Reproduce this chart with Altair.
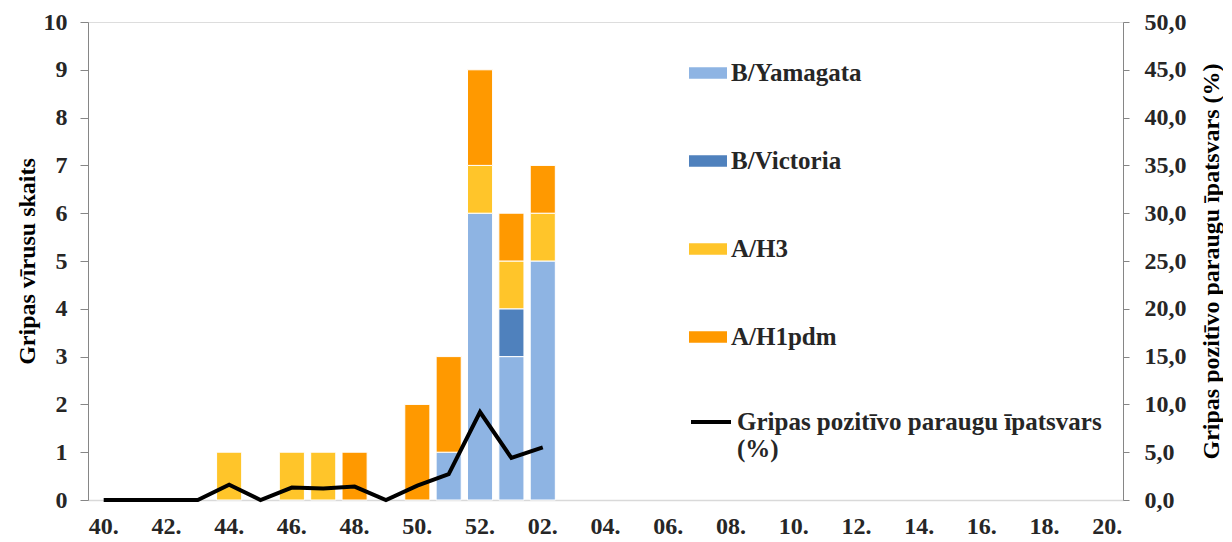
import altair as alt
import pandas as pd

weeks = ["40.", "41.", "42.", "43.", "44.", "45.", "46.", "47.", "48.", "49.", "50.", "51.", "52.",
         "01.", "02.", "03.", "04.", "05.", "06.", "07.", "08.", "09.", "10.", "11.", "12.",
         "13.", "14.", "15.", "16.", "17.", "18.", "19.", "20."]
label_weeks = ["40.", "42.", "44.", "46.", "48.", "50.", "52.", "02.", "04.", "06.", "08.",
               "10.", "12.", "14.", "16.", "18.", "20."]

series = ["B/Yamagata", "B/Victoria", "A/H3", "A/H1pdm"]
colors = ["#8EB4E3", "#4F81BD", "#FFC52A", "#FF9900"]

# counts for weeks 40. .. 02. (rest zero)
b_yamagata = [0, 0, 0, 0, 0, 0, 0, 0, 0, 0, 0, 1, 6, 3, 5]
b_victoria = [0, 0, 0, 0, 0, 0, 0, 0, 0, 0, 0, 0, 0, 1, 0]
a_h3       = [0, 0, 0, 0, 1, 0, 1, 1, 0, 0, 0, 0, 1, 1, 1]
a_h1pdm    = [0, 0, 0, 0, 0, 0, 0, 0, 1, 0, 2, 2, 2, 1, 1]

positive_pct = [0.0, 0.0, 0.0, 0.0, 1.6, 0.0, 1.3, 1.2, 1.4, 0.0, 1.5, 2.7, 9.2, 4.4, 5.5]

line_label = "Gripas pozitīvo paraugu īpatsvars (%)"

rows = []
for si, (name, vals) in enumerate(zip(series, [b_yamagata, b_victoria, a_h3, a_h1pdm])):
    for w, v in zip(weeks, vals):
        if v > 0:
            rows.append({"week": w, "series": name, "count": v, "ord": si})
bars_df = pd.DataFrame(rows)

line_df = pd.DataFrame({"week": weeks[:len(positive_pct)], "pct": positive_pct, "lbl": line_label})

FONT = "Liberation Serif"
TXT = "#262626"
FS = 24

xenc = alt.X("week:N", sort=weeks, scale=alt.Scale(domain=weeks, paddingInner=0.2, paddingOuter=0.1),
             axis=alt.Axis(title=None, values=label_weeks, ticks=False, labelAngle=0,
                           labelFont=FONT, labelFontWeight="bold", labelFontSize=FS,
                           labelColor=TXT, labelPadding=14, domainColor="#d9d9d9",
                           domainWidth=1.5, grid=False))

bars = alt.Chart(bars_df).mark_bar(stroke="white", strokeWidth=1).encode(
    x=xenc,
    y=alt.Y("count:Q", stack="zero",
            scale=alt.Scale(domain=[0, 10], nice=False),
            axis=alt.Axis(title="Gripas vīrusu skaits", values=list(range(0, 11)),
                          grid=False, tickSize=8, tickColor="#868686", domainColor="#868686",
                          labelFont=FONT, labelFontWeight="bold", labelFontSize=FS,
                          labelColor=TXT, labelPadding=13,
                          titleFont=FONT, titleFontWeight="bold", titleFontSize=FS,
                          titleColor="black", titlePadding=4)),
    color=alt.Color("series:N", scale=alt.Scale(domain=series, range=colors),
                    legend=alt.Legend(title=None, orient="none", legendX=601, legendY=32,
                                      symbolType="M-1,-0.3H1V0.3H-1Z", symbolSize=1444,
                                      symbolStrokeWidth=0, symbolOpacity=1,
                                      rowPadding=56, padding=0,
                                      labelFont=FONT, labelFontWeight="bold", labelFontSize=25,
                                      labelColor=TXT, labelOffset=4, labelLimit=600)),
    order=alt.Order("ord:Q", sort="ascending"),
)

line = alt.Chart(line_df).mark_line(strokeWidth=4).encode(
    x=alt.X("week:N", sort=weeks, scale=alt.Scale(domain=weeks)),
    y=alt.Y("pct:Q", scale=alt.Scale(domain=[0, 50], nice=False),
            axis=alt.Axis(title=line_label, orient="right", values=list(range(0, 51, 5)),
                          labelExpr="replace(format(datum.value, '.1f'), '.', ',')",
                          grid=False, tickSize=6, tickColor="#868686", domainColor="#868686",
                          labelFont=FONT, labelFontWeight="bold", labelFontSize=FS,
                          labelColor=TXT, labelPadding=15,
                          titleFont=FONT, titleFontWeight="bold", titleFontSize=FS,
                          titleColor="black", titlePadding=13, titleAngle=270,
                          titleBaseline="top")),
    stroke=alt.Stroke("lbl:N", scale=alt.Scale(domain=[line_label], range=["black"]),
                      legend=alt.Legend(title=None, orient="none", legendX=601, legendY=378,
                                        symbolType="stroke", symbolSize=1600, symbolStrokeWidth=4,
                                        padding=0,
                                        labelExpr="['Gripas pozitīvo paraugu īpatsvars', '(%)']",
                                        labelFont=FONT, labelFontWeight="bold", labelFontSize=25,
                                        labelColor=TXT, labelOffset=4, labelLimit=600)),
)

chart = alt.layer(bars, line).resolve_scale(y="independent", color="independent").properties(
    width=1035, height=478,
    padding={"left": 7, "top": 2, "right": 0, "bottom": 0},
).configure_view(stroke=None).configure(background="white")

chart.save("out.html", embed_options={"renderer": "svg", "actions": False})
